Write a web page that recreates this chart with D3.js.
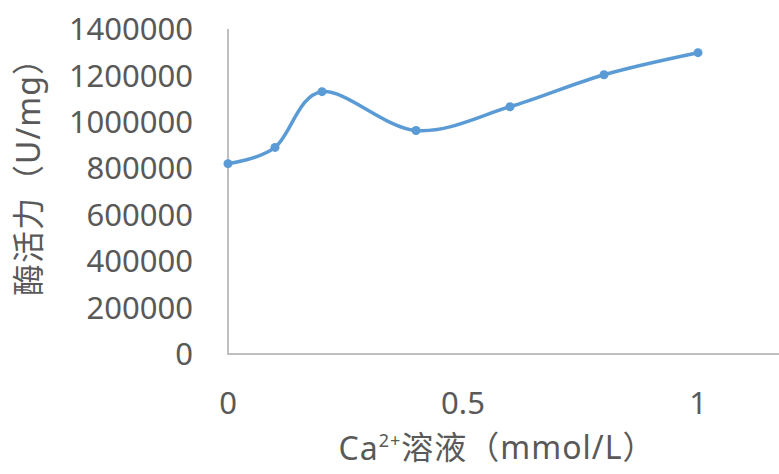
<!DOCTYPE html>
<html>
<head>
<meta charset="utf-8">
<script src="https://cdn.jsdelivr.net/npm/d3@7"></script>
<style>
  body { margin: 0; background: #fff; }
  text { font-family: "Noto Sans", "Noto Sans CJK SC", sans-serif; fill: #595959; }
</style>
</head>
<body>
<svg width="779" height="474"></svg>
<script>
// Ca2+ concentration (mmol/L) vs enzyme activity (U/mg)
var conc = [0, 0.1, 0.2, 0.4, 0.6, 0.8, 1.0]
var activity = [820000, 890000, 1130000, 963000, 1065000, 1203000, 1298000]
var yTicks = [0, 200000, 400000, 600000, 800000, 1000000, 1200000, 1400000]
var xTicks = [0, 0.5, 1]

var svg = d3.select("svg")

var x = d3.scaleLinear().domain([0, 1.2]).range([228, 792])
var y = d3.scaleLinear().domain([0, 1400000]).range([354, 29])

var points = conc.map(function(c, i) { return { x: c, y: activity[i] } })

// axes
var axisColor = "#bfbfbf"
svg.append("line")
    .attr("x1", x(0)).attr("x2", x(0))
    .attr("y1", y(1400000)).attr("y2", y(0))
    .attr("stroke", axisColor).attr("stroke-width", 2)
svg.append("line")
    .attr("x1", x(0) - 1).attr("x2", 779)
    .attr("y1", y(0)).attr("y2", y(0))
    .attr("stroke", axisColor).attr("stroke-width", 2)

svg.append("g").selectAll("text")
    .data(yTicks)
    .enter().append("text")
    .attr("x", 193)
    .attr("y", function(d) { return y(d) })
    .attr("dy", "0.36em")
    .attr("text-anchor", "end")
    .attr("font-size", 31)
    .text(function(d) { return d })

svg.append("g").selectAll("text")
    .data(xTicks)
    .enter().append("text")
    .attr("x", function(d) { return x(d) })
    .attr("y", 403)
    .attr("dy", "0.36em")
    .attr("text-anchor", "middle")
    .attr("font-size", 31)
    .text(function(d) { return d })

// titles
svg.append("text")
    .attr("transform", "translate(28,169) rotate(-90)")
    .attr("dy", "0.36em")
    .attr("text-anchor", "middle")
    .attr("font-size", 32)
    .attr("letter-spacing", 1)
    .text("酶活力（U/mg）")

var xt = svg.append("text")
    .attr("x", 497)
    .attr("y", 448)
    .attr("dy", "0.36em")
    .attr("text-anchor", "middle")
    .attr("font-size", 32)
    .attr("letter-spacing", 1)
xt.append("tspan").text("Ca")
xt.append("tspan").attr("font-size", 18).attr("dy", "-0.7em").text("2+")
xt.append("tspan").attr("dy", "0.39em").text("溶液（mmol/L）")

// smoothed line + markers
var line = d3.line()
    .x(function(d) { return x(d.x) })
    .y(function(d) { return y(d.y) })
    .curve(d3.curveCardinal.tension(0))

svg.append("path")
    .datum(points)
    .attr("d", line)
    .attr("fill", "none")
    .attr("stroke", "#5b9bd5")
    .attr("stroke-width", 3.5)
    .attr("stroke-linejoin", "round")

svg.append("g").selectAll("circle")
    .data(points)
    .enter().append("circle")
    .attr("cx", function(d) { return x(d.x) })
    .attr("cy", function(d) { return y(d.y) })
    .attr("r", 4.5)
    .attr("fill", "#5b9bd5")
</script>
</body>
</html>
